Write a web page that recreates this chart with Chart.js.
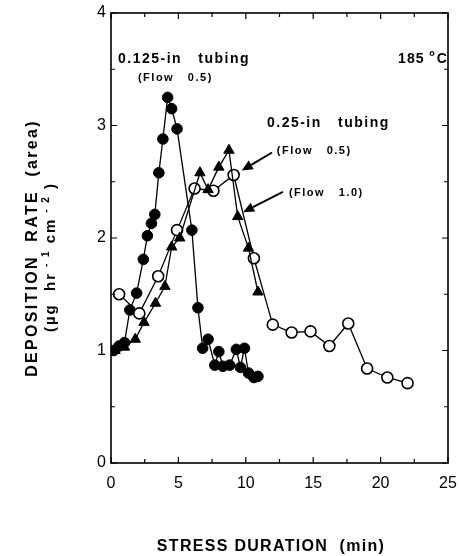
<!DOCTYPE html>
<html>
<head>
<meta charset="utf-8">
<script src="https://cdn.jsdelivr.net/npm/chart.js@4.4.1/dist/chart.umd.min.js"></script>
<style>
  html, body { margin: 0; padding: 0; background: #fff; }
</style>
</head>
<body>
<canvas id="depositionChart" width="459" height="556"></canvas>
<script>
// 0.125-in tubing, flow 0.5
const smallTubeTime = [0.2, 0.6, 1.0, 1.4, 1.9, 2.4, 2.7, 3.0, 3.25, 3.55, 3.85, 4.2, 4.5, 4.9, 6.0, 6.45, 6.8, 7.2, 7.7, 8.0, 8.3, 8.8, 9.3, 9.6, 9.9, 10.2, 10.6, 10.9];
const smallTubeRate = [1.0, 1.04, 1.07, 1.36, 1.51, 1.81, 2.02, 2.13, 2.21, 2.58, 2.88, 3.25, 3.15, 2.97, 2.07, 1.38, 1.02, 1.1, 0.87, 0.99, 0.86, 0.87, 1.01, 0.85, 1.02, 0.8, 0.76, 0.77];

// 0.25-in tubing, flow 0.5
const wideSlowTime = [0.6, 2.1, 3.5, 4.9, 6.2, 7.6, 9.1, 10.6, 12.0, 13.4, 14.8, 16.2, 17.6, 19.0, 20.5, 22.0];
const wideSlowRate = [1.5, 1.33, 1.66, 2.07, 2.44, 2.42, 2.56, 1.82, 1.23, 1.16, 1.17, 1.04, 1.24, 0.84, 0.76, 0.71];

// 0.25-in tubing, flow 1.0
const wideFastTime = [0.3, 1.0, 1.8, 2.45, 3.3, 4.0, 4.5, 5.1, 6.6, 7.2, 8.0, 8.75, 9.4, 10.2, 10.9];
const wideFastRate = [1.0, 1.03, 1.1, 1.25, 1.42, 1.57, 1.92, 2.0, 2.58, 2.43, 2.63, 2.78, 2.19, 1.91, 1.52];

const xTicks = [0, 5, 10, 15, 20, 25];
const yTicks = [0, 1, 2, 3, 4];

function toPoints(xs, ys) {
  return xs.map((x, i) => ({ x: x, y: ys[i] }));
}

const FONT = '"Liberation Sans", Arial, sans-serif';

function drawSpaced(ctx, text, x, y, size, spacing, weight) {
  ctx.font = (weight || "bold") + " " + size + "px " + FONT;
  ctx.letterSpacing = spacing + "px";
  ctx.fillText(text, x, y);
  ctx.letterSpacing = "0px";
}

function arrow(ctx, x1, y1, x2, y2) {
  const ang = Math.atan2(y2 - y1, x2 - x1);
  const len = 11;
  const bx = x2 - len * Math.cos(ang);
  const by = y2 - len * Math.sin(ang);
  ctx.beginPath();
  ctx.moveTo(x1, y1);
  ctx.lineTo(bx, by);
  ctx.lineWidth = 2;
  ctx.stroke();
  ctx.beginPath();
  ctx.moveTo(x2, y2);
  ctx.lineTo(bx + 5 * Math.sin(ang), by - 5 * Math.cos(ang));
  ctx.lineTo(bx - 5 * Math.sin(ang), by + 5 * Math.cos(ang));
  ctx.closePath();
  ctx.fill();
}

// frame, inward ticks, annotations and axis titles
const decorations = {
  id: "decorations",
  afterDraw(chart) {
    const ctx = chart.ctx;
    const a = chart.chartArea;
    const xs = chart.scales.x;
    const ys = chart.scales.y;
    const px = v => xs.getPixelForValue(v);
    const py = v => ys.getPixelForValue(v);

    ctx.save();
    ctx.strokeStyle = "#000";
    ctx.fillStyle = "#000";
    ctx.lineWidth = 1.6;
    ctx.strokeRect(a.left, a.top, a.right - a.left, a.bottom - a.top);

    ctx.lineWidth = 1.2;
    ctx.beginPath();
    for (let v = 0; v <= 25; v += 2.5) {
      const x = px(v);
      const l = v % 5 === 0 ? 6 : 4;
      ctx.moveTo(x, a.bottom); ctx.lineTo(x, a.bottom - l);
      ctx.moveTo(x, a.top); ctx.lineTo(x, a.top + l);
    }
    for (let v = 0; v <= 4; v += 0.5) {
      const y = py(v);
      const l = v % 1 === 0 ? 6 : 4;
      ctx.moveTo(a.left, y); ctx.lineTo(a.left + l, y);
      ctx.moveTo(a.right, y); ctx.lineTo(a.right - l, y);
    }
    ctx.stroke();

    ctx.textAlign = "left";
    ctx.textBaseline = "alphabetic";
    drawSpaced(ctx, "0.125-in   tubing", px(0.52), py(3.56), 14, 1.5);
    drawSpaced(ctx, "(Flow   0.5)", px(2.0), py(3.40), 11, 1.5);
    drawSpaced(ctx, "0.25-in   tubing", px(11.57), py(2.99), 14, 1.5);
    drawSpaced(ctx, "(Flow   0.5)", px(12.3), py(2.75), 11, 1.5);
    drawSpaced(ctx, "(Flow   1.0)", px(13.2), py(2.37), 11, 1.5);

    // 185 °C
    ctx.font = "bold 14px " + FONT;
    ctx.letterSpacing = "1px";
    let tx = px(21.3);
    const ty = py(3.56);
    ctx.fillText("185 ", tx, ty);
    tx += ctx.measureText("185 ").width;
    ctx.font = "bold 9px " + FONT;
    ctx.fillText("o", tx, ty - 7);
    tx += ctx.measureText("o").width + 1;
    ctx.font = "bold 14px " + FONT;
    ctx.fillText("C", tx, ty);
    ctx.letterSpacing = "0px";

    arrow(ctx, px(11.95), py(2.76), px(9.7), py(2.6));
    arrow(ctx, px(12.75), py(2.41), px(9.8), py(2.23));

    // x title
    ctx.textAlign = "center";
    drawSpaced(ctx, "STRESS DURATION  (min)", 271, 551, 16, 1.3);

    // y title, two rotated lines
    ctx.save();
    ctx.translate(33, 248);
    ctx.rotate(-Math.PI / 2);
    ctx.textBaseline = "middle";
    drawSpaced(ctx, "DEPOSITION  RATE  (area)", 0, 0, 16, 2.3);
    ctx.restore();

    ctx.save();
    ctx.translate(51, 257);
    ctx.rotate(-Math.PI / 2);
    ctx.textBaseline = "middle";
    ctx.textAlign = "left";
    const parts = [
      ["(\u00b5g  hr", 15, 0],
      [" - 1", 10, -5],
      [" cm", 15, 0],
      [" - 2", 10, -5],
      [" )", 15, 0]
    ];
    let total = 0;
    parts.forEach(p => {
      ctx.font = "bold " + p[1] + "px " + FONT;
      ctx.letterSpacing = "2px";
      total += ctx.measureText(p[0]).width;
    });
    let cx = -total / 2;
    parts.forEach(p => {
      ctx.font = "bold " + p[1] + "px " + FONT;
      ctx.letterSpacing = "2px";
      ctx.fillText(p[0], cx, p[2]);
      cx += ctx.measureText(p[0]).width;
    });
    ctx.restore();

    ctx.restore();
  }
};

const ctx = document.getElementById("depositionChart").getContext("2d");

new Chart(ctx, {
  type: "line",
  data: {
    datasets: [
      {
        label: "0.25-in tubing (Flow 1.0)",
        data: toPoints(wideFastTime, wideFastRate),
        borderColor: "#000",
        borderWidth: 1.3,
        pointStyle: "triangle",
        pointRadius: 6,
        pointBackgroundColor: "#000",
        pointBorderColor: "#000",
        pointBorderWidth: 1
      },
      {
        label: "0.25-in tubing (Flow 0.5)",
        data: toPoints(wideSlowTime, wideSlowRate),
        borderColor: "#000",
        borderWidth: 1.3,
        pointStyle: "circle",
        pointRadius: 5.5,
        pointBackgroundColor: "#fff",
        pointBorderColor: "#000",
        pointBorderWidth: 1.6
      },
      {
        label: "0.125-in tubing (Flow 0.5)",
        data: toPoints(smallTubeTime, smallTubeRate),
        borderColor: "#000",
        borderWidth: 1.3,
        pointStyle: "circle",
        pointRadius: 5.3,
        pointBackgroundColor: "#000",
        pointBorderColor: "#000",
        pointBorderWidth: 1
      }
    ]
  },
  options: {
    responsive: false,
    animation: false,
    events: [],
    layout: { padding: { top: 13, right: 11, left: 0, bottom: 0 } },
    plugins: {
      legend: { display: false },
      tooltip: { enabled: false }
    },
    scales: {
      x: {
        type: "linear",
        min: 0,
        max: 25,
        afterBuildTicks: scale => { scale.ticks = xTicks.map(v => ({ value: v })); },
        afterFit: scale => {
          scale.height = 93;
          scale.paddingLeft = 0;
          scale.paddingRight = 0;
        },
        grid: { drawOnChartArea: false, drawTicks: false },
        border: { display: false },
        ticks: {
          color: "#000",
          padding: 11,
          font: { size: 16, family: FONT }
        }
      },
      y: {
        type: "linear",
        min: 0,
        max: 4,
        afterBuildTicks: scale => { scale.ticks = yTicks.map(v => ({ value: v })); },
        afterFit: scale => {
          scale.width = 111;
          scale.paddingTop = 0;
          scale.paddingBottom = 0;
        },
        grid: { drawOnChartArea: false, drawTicks: false },
        border: { display: false },
        ticks: {
          color: "#000",
          padding: 5,
          font: { size: 16, family: FONT }
        }
      }
    }
  },
  plugins: [decorations]
});
</script>
</body>
</html>
